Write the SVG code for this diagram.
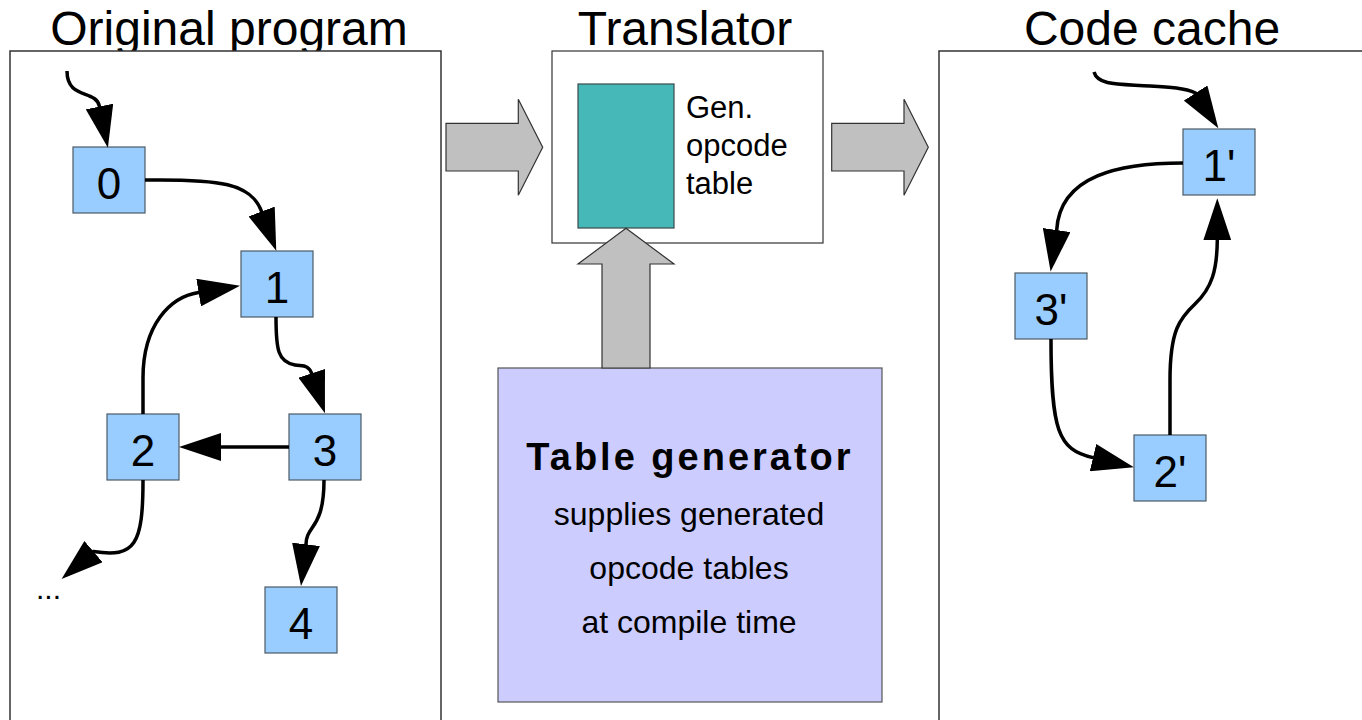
<svg xmlns="http://www.w3.org/2000/svg" width="1362" height="720" viewBox="0 0 1362 720">
<defs>
<style>
.panel{fill:#fff;stroke:#333;stroke-width:1.5}
.node rect{fill:#99CCFF;stroke:#4d5a66;stroke-width:1.2}
.node text{font-family:"Liberation Sans",Arial,sans-serif;font-size:44px;text-anchor:middle;fill:#000}
.title{font-family:"Liberation Sans",Arial,sans-serif;font-size:48px;text-anchor:middle;fill:#000}
.edge{fill:none;stroke:#000;stroke-width:3.5;marker-end:url(#ah)}
.block{fill:#C0C0C0;stroke:#333;stroke-width:1.2}
.txt{font-family:"Liberation Sans",Arial,sans-serif;fill:#000}
</style>
<marker id="ah" viewBox="0 0 42 28" refX="2" refY="14" markerWidth="42" markerHeight="28" markerUnits="userSpaceOnUse" orient="auto">
<path d="M0,0 L42,14 L0,28 z" fill="#000"/>
</marker>
</defs>
<rect width="1362" height="720" fill="#fff"/>

<g id="titles">
<text class="title" x="229" y="45">Original program</text>
<text class="title" x="685" y="45">Translator</text>
<text class="title" x="1152" y="45">Code cache</text>
</g>

<g id="panel-original"><rect class="panel" x="10" y="51" width="431" height="700"/></g>
<g id="panel-cache"><rect class="panel" x="939" y="51" width="450" height="700"/></g>

<g id="translator">
<rect x="552" y="51" width="271" height="192" fill="#fff" stroke="#333" stroke-width="1.2"/>
<rect id="opcode-table" x="578" y="84" width="96" height="144" fill="#47B8B8" stroke="#3a4a4a" stroke-width="1.2"/>
<text class="txt" font-size="31" x="686" y="118">Gen.</text>
<text class="txt" font-size="31" x="686" y="156">opcode</text>
<text class="txt" font-size="31" x="686" y="194">table</text>
</g>

<g id="table-generator">
<rect x="498" y="368" width="384" height="334" fill="#CCCCFF" stroke="#555" stroke-width="1.2"/>
<text class="txt" font-size="38" font-weight="bold" letter-spacing="3" x="690" y="470" text-anchor="middle">Table generator</text>
<text class="txt" font-size="32" x="689" y="525" text-anchor="middle">supplies generated</text>
<text class="txt" font-size="32" x="689" y="579" text-anchor="middle">opcode tables</text>
<text class="txt" font-size="32" x="689" y="633" text-anchor="middle">at compile time</text>
</g>

<g id="n0" class="node"><rect x="73" y="147" width="72" height="66"/><text x="109" y="199">0</text></g>
<g id="n1" class="node"><rect x="241" y="251" width="72" height="66"/><text x="277" y="303">1</text></g>
<g id="n2" class="node"><rect x="107" y="414" width="72" height="66"/><text x="143" y="466">2</text></g>
<g id="n3" class="node"><rect x="289" y="414" width="72" height="66"/><text x="325" y="466">3</text></g>
<g id="n4" class="node"><rect x="265" y="587" width="72" height="66"/><text x="301" y="639">4</text></g>
<g id="n1p" class="node"><rect x="1183" y="129" width="72" height="66"/><text x="1219" y="181">1'</text></g>
<g id="n3p" class="node"><rect x="1015" y="273" width="72" height="66"/><text x="1051" y="325">3'</text></g>
<g id="n2p" class="node"><rect x="1134" y="435" width="72" height="66"/><text x="1170" y="487">2'</text></g>
<g id="ellipsis"><text class="txt" font-size="30" x="36" y="599">...</text></g>

<g id="connectors">
<polygon class="block" points="446,123.3 518.3,123.3 518.3,99.3 542.7,147.3 518.3,195.3 518.3,171 446,171"/>
<polygon class="block" points="831.7,123.3 904,123.3 904,99.3 928.3,147.3 904,195.3 904,171 831.7,171"/>
<polygon class="block" points="626,228.3 674,264 650,264 650,368 602,368 602,264 578,264"/>

<path class="edge" d="M67,71 C67,100 96,89 99.5,106.5 l0.4,1.96"/>
<path class="edge" d="M145,180 C220,179 251,183 261.6,211.5 l0.7,1.88"/>
<path class="edge" d="M143,414 L143,378 C143,325 170,297 198.6,292.6 l1.97,-0.33"/>
<path class="edge" d="M276,317 C276,350 278,362 295,365 C302,366.5 308,364 311.7,373.4 l0.63,1.9"/>
<path class="edge" d="M289,447 L221,447 l-2,0"/>
<path class="edge" d="M143,480 C143,545 135,558 93.5,551.6 l-1.52,1.3"/>
<path class="edge" d="M324,480 C324,530 306,525 306,544.3 l-0.24,1.99"/>

<path class="edge" d="M1094,72 C1098,86 1120,84 1150,86 C1170,87 1185,88 1195.6,93 l1.08,1.68"/>
<path class="edge" d="M1183,163 C1120,163 1060,175 1056.7,230 l-0.29,1.98"/>
<path class="edge" d="M1051,339 C1051,430 1058,450 1093,457.6 l1.95,0.46"/>
<path class="edge" d="M1170,435 L1170,380 C1170,330 1180,318 1195,304 C1212,288 1217,270 1217.3,240.3 l0,-2"/>
</g>
</svg>
